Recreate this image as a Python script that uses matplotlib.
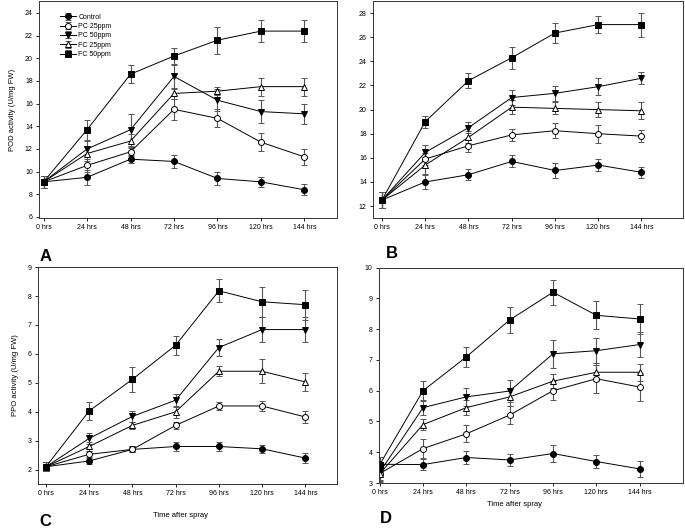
import numpy as np
import matplotlib
matplotlib.use("Agg")
import matplotlib.pyplot as plt

plt.rcParams['font.family'] = ['Liberation Sans', 'DejaVu Sans']

hours = [0, 24, 48, 72, 96, 120, 144]
tick_labels = ['0 hrs', '24 hrs', '48 hrs', '72 hrs', '96 hrs', '120 hrs', '144 hrs']
series = ['Control', 'PC 25ppm', 'PC 50ppm', 'FC 25ppm', 'FC 50ppm']

# panel A - POD, first set
pod_a = {
    'Control':  [9.1, 9.5, 11.1, 10.9, 9.4, 9.1, 8.4],
    'PC 25ppm': [9.1, 10.55, 11.75, 15.5, 14.7, 12.6, 11.3],
    'PC 50ppm': [9.1, 12.0, 13.7, 18.4, 16.3, 15.3, 15.1],
    'FC 25ppm': [9.1, 11.6, 12.7, 16.9, 17.1, 17.5, 17.5],
    'FC 50ppm': [9.1, 13.7, 18.6, 20.2, 21.6, 22.4, 22.4],
}
pod_a_err = {
    'Control':  [0.5, 0.65, 0.35, 0.55, 0.6, 0.45, 0.5],
    'PC 25ppm': [0.5, 0.6, 0.4, 0.9, 0.8, 0.8, 0.7],
    'PC 50ppm': [0.5, 0.7, 1.4, 1.1, 0.95, 1.0, 0.9],
    'FC 25ppm': [0.5, 0.7, 0.6, 0.5, 0.35, 0.8, 0.8],
    'FC 50ppm': [0.5, 0.9, 0.8, 0.75, 1.2, 0.95, 0.95],
}

# panel B - POD, second set
pod_b = {
    'Control':  [12.5, 14.0, 14.6, 15.7, 14.95, 15.4, 14.8],
    'PC 25ppm': [12.5, 15.9, 17.0, 17.9, 18.25, 18.0, 17.8],
    'PC 50ppm': [12.5, 16.45, 18.5, 21.0, 21.35, 21.9, 22.6],
    'FC 25ppm': [12.5, 15.4, 17.7, 20.2, 20.1, 20.0, 19.9],
    'FC 50ppm': [12.5, 19.0, 22.4, 24.3, 26.35, 27.05, 27.05],
}
pod_b_err = {
    'Control':  [0.7, 0.6, 0.45, 0.5, 0.6, 0.5, 0.45],
    'PC 25ppm': [0.7, 0.5, 0.5, 0.5, 0.6, 0.75, 0.5],
    'PC 50ppm': [0.7, 0.6, 0.45, 0.65, 0.6, 0.7, 0.5],
    'FC 25ppm': [0.7, 0.7, 0.5, 0.6, 0.5, 0.65, 0.7],
    'FC 50ppm': [0.7, 0.5, 0.65, 0.9, 0.8, 0.7, 1.0],
}

# panel C - PPO, first set
ppo_c = {
    'Control':  [2.1, 2.3, 2.7, 2.8, 2.8, 2.72, 2.4],
    'PC 25ppm': [2.1, 2.53, 2.7, 3.53, 4.2, 4.2, 3.82],
    'PC 50ppm': [2.1, 3.08, 3.84, 4.4, 6.22, 6.84, 6.84],
    'FC 25ppm': [2.1, 2.8, 3.53, 4.0, 5.4, 5.4, 5.03],
    'FC 50ppm': [2.1, 4.03, 5.12, 6.3, 8.18, 7.8, 7.7],
}
ppo_c_err = {
    'Control':  [0.15, 0.1, 0.1, 0.15, 0.15, 0.13, 0.18],
    'PC 25ppm': [0.15, 0.1, 0.1, 0.12, 0.15, 0.18, 0.2],
    'PC 50ppm': [0.15, 0.2, 0.2, 0.22, 0.3, 0.42, 0.42],
    'FC 25ppm': [0.15, 0.15, 0.12, 0.2, 0.18, 0.42, 0.32],
    'FC 50ppm': [0.15, 0.3, 0.42, 0.33, 0.4, 0.52, 0.52],
}

# panel D - PPO, second set
ppo_d = {
    'Control':  [3.61, 3.6, 3.83, 3.75, 3.96, 3.7, 3.46],
    'PC 25ppm': [3.31, 4.12, 4.6, 5.21, 6.0, 6.39, 6.12],
    'PC 50ppm': [3.35, 5.45, 5.8, 5.99, 7.2, 7.3, 7.5],
    'FC 25ppm': [3.3, 4.9, 5.45, 5.8, 6.31, 6.6, 6.6],
    'FC 50ppm': [3.6, 6.0, 7.1, 8.3, 9.2, 8.45, 8.33],
}
ppo_d_err = {
    'Control':  [0.25, 0.17, 0.2, 0.2, 0.28, 0.22, 0.25],
    'PC 25ppm': [0.25, 0.3, 0.28, 0.3, 0.3, 0.45, 0.45],
    'PC 50ppm': [0.25, 0.25, 0.3, 0.35, 0.45, 0.4, 0.4],
    'FC 25ppm': [0.25, 0.18, 0.25, 0.3, 0.22, 0.3, 0.28],
    'FC 50ppm': [0.25, 0.33, 0.33, 0.42, 0.4, 0.45, 0.5],
}

styles = {
    'Control':  dict(marker='o', mfc='black'),
    'PC 25ppm': dict(marker='o', mfc='white'),
    'PC 50ppm': dict(marker='v', mfc='black'),
    'FC 25ppm': dict(marker='^', mfc='white'),
    'FC 50ppm': dict(marker='s', mfc='black'),
}

fig = plt.figure(figsize=(6.85, 5.32), dpi=100)

panels = [
    # rect, data, err, ylim, yticks, xlim, ylabel, letter, letter pos, xlabel pos
    ([0.057, 0.590, 0.435, 0.408], pod_a, pod_a_err, (5.9, 25.05), range(6, 25, 2), (-2.5, 162),
     'POD activity (U/mg FW)', 'A', (0.058, 0.51), None),
    ([0.5445, 0.590, 0.4525, 0.408], pod_b, pod_b_err, (11, 29), range(12, 29, 2), (-5, 167),
     None, 'B', (0.563, 0.515), None),
    ([0.055, 0.090, 0.437, 0.408], ppo_c, ppo_c_err, (1.5, 9), range(2, 10), (-4.6, 161.6),
     'PPO activity (U/mg FW)', 'C', (0.058, 0.011), (0.478, -0.13)),
    ([0.553, 0.092, 0.444, 0.405], ppo_d, ppo_d_err, (3, 10), range(3, 11), (-0.5, 168),
     None, 'D', (0.555, 0.017), (0.447, -0.085)),
]

for rect, data, err, ylim, yticks, xlim, ylabel, letter, lpos, xlpos in panels:
    ax = fig.add_axes(rect)
    for name in series:
        st = styles[name]
        ax.errorbar(hours, data[name], yerr=err[name], color='black', lw=0.7,
                    marker=st['marker'], mfc=st['mfc'], mec='black', mew=0.7, ms=4.3,
                    ecolor='#555555', elinewidth=0.8, capsize=2.2, capthick=0.8,
                    label=name)
    ax.set_xlim(*xlim)
    ax.set_ylim(*ylim)
    ax.set_xticks(hours)
    ax.set_xticklabels(tick_labels)
    ax.set_yticks(list(yticks))
    ax.tick_params(labelsize=5, length=2.5, width=0.6, pad=2, direction='out')
    for sp in ax.spines.values():
        sp.set_linewidth(0.7)
        sp.set_color('#333333')
    if ylabel:
        ax.set_ylabel(ylabel, fontsize=5.5, labelpad=6)
    if xlpos:
        ax.text(xlpos[0], xlpos[1], 'Time after spray', transform=ax.transAxes,
                fontsize=5.5, ha='center', va='top')
    fig.text(lpos[0], lpos[1], letter, fontsize=12, fontweight='bold')
    if letter == 'A':
        ax.legend(loc='upper left', bbox_to_anchor=(0.055, 0.965), frameon=False,
                  fontsize=5, handlelength=2.2, handletextpad=0.4, labelspacing=0.35,
                  borderpad=0.2)

fig.savefig('out.png', dpi=100)
